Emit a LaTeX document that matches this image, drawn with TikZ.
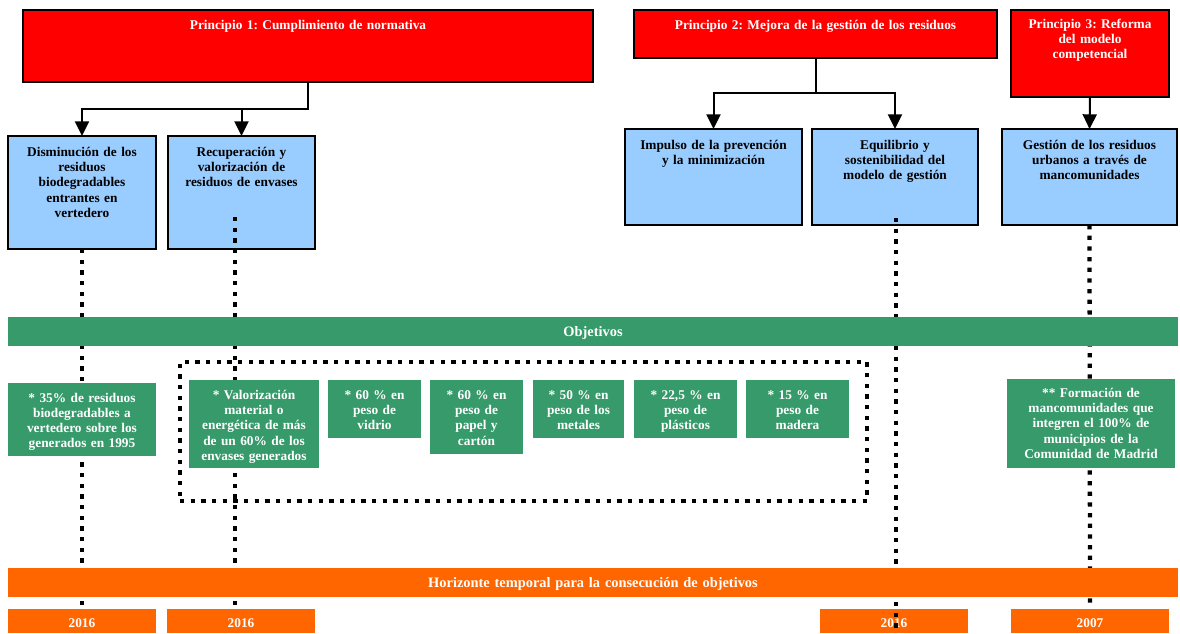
\documentclass[tikz,border=0pt]{standalone}
\usepackage{fontspec}
\setmainfont{Liberation Serif}
\usetikzlibrary{arrows.meta,fit}
\definecolor{pred}{RGB}{255,0,0}
\definecolor{pblue}{RGB}{153,204,255}
\definecolor{pgreen}{RGB}{54,154,106}
\definecolor{porange}{RGB}{255,102,0}
\frenchspacing
\begin{document}
\begin{tikzpicture}[x=0.75pt,y=-0.75pt,
 box/.style={inner sep=0pt, outer sep=0pt},
 redbox/.style={box, draw=black, line width=1.5pt, fill=pred},
 bluebox/.style={box, draw=black, line width=1.5pt, fill=pblue},
 greenbox/.style={box, fill=pgreen},
 orangebox/.style={box, fill=porange},
 txt/.style={font=\fontsize{10}{11.4}\selectfont\bfseries\frenchspacing, text width=300pt, align=center, inner sep=0pt, anchor=base},
 wtxt/.style={txt, text=white},
 bartxt/.style={wtxt, font=\fontsize{10.8}{12}\selectfont\bfseries\frenchspacing},
 arr/.style={line width=1.5pt, -{Triangle[width=10.5pt,length=11pt]}},
 dotline/.style={line width=3.2pt, dash pattern=on 3.2pt off 4.8pt},
 dotframe/.style={box, draw=black, line width=3.2pt, dash pattern=on 3.2pt off 4.8pt},
]
\useasboundingbox (0,0) rectangle (1180,633);

% principles
\node[redbox, fit={(23,10) (593,82)}] (p1) {};
\node[wtxt] (p1t) at (308,29.5) {Principio 1: Cumplimiento de normativa};
\node[redbox, fit={(634,10) (997,58)}] (p2) {};
\node[wtxt] (p2t) at (815.5,29.5) {Principio 2: Mejora de la gestión de los residuos};
\node[redbox, fit={(1011,10) (1169,97)}] (p3) {};
\node[wtxt] (p3t) at (1090,28.5) {Principio 3: Reforma\\del modelo\\competencial};

% lines of action
\node[bluebox, fit={(8,136) (156,249)}] (b1) {};
\node[txt] (b1t) at (82,156.5) {Disminución de los\\residuos\\biodegradables\\entrantes en\\vertedero};
\node[bluebox, fit={(168,136) (315,249)}] (b2) {};
\node[txt] (b2t) at (241.5,156.5) {Recuperación y\\valorización de\\residuos de envases};
\node[bluebox, fit={(625,129) (802,225)}] (b3) {};
\node[txt] (b3t) at (713.5,149.5) {Impulso de la prevención\\y la minimización};
\node[bluebox, fit={(812,129) (978,225)}] (b4) {};
\node[txt] (b4t) at (895,149.5) {Equilibrio y\\sostenibilidad del\\modelo de gestión};
\node[bluebox, fit={(1002,129) (1177,225)}] (b5) {};
\node[txt] (b5t) at (1089.5,149.5) {Gestión de los residuos\\urbanos a través de\\mancomunidades};

% arrows
\draw[arr] (p1.south) -- ++(0,27) -| (b1.north);
\draw[arr] (p1.south) -- ++(0,27) -| (b2.north);
\draw[arr] (p2.south) -- ++(0,35) -| (b3.north);
\draw[arr] (p2.south) -- ++(0,35) -| (b4.north);
\draw[arr] (p3.south) -- (b5.north);

% year box under the dotted line
\node[orangebox, fit={(820,609) (968,633)}] (y3) {};
\node[wtxt] (y3t) at (894,627.5) {2016};

% dotted time lines
\coordinate (d1e) at (82,606);
\coordinate (d2s) at (235,217);
\coordinate (d2e) at (235,606);
\coordinate (d3s) at (896,218);
\coordinate (d3e) at (896,631);
\coordinate (d4e) at (1090,609);
\draw[dotline] (b1.south) -- (d1e);
\draw[dotline] (d2s) -- (d2e);
\draw[dotline] (d3s) -- (d3e);
\draw[dotline] (b5.south) -- (d4e);

% objectives
\node[dotframe, fit={(180,362) (867,501)}] (grp) {};
\node[greenbox, fit={(8,317) (1178,346)}] (obj) {};
\node[bartxt] (objt) at (593,336) {Objetivos};

\node[greenbox, fit={(8,383) (156,456)}] (g1) {};
\node[wtxt] (g1t) at (82,402) {* 35\% de residuos\\biodegradables a\\vertedero sobre los\\generados en 1995};
\node[greenbox, fit={(189,380) (319,468)}] (g2) {};
\node[wtxt] (g2t) at (254,399.5) {* Valorización\\material o\\energética de más\\de un 60\% de los\\envases generados};
\node[greenbox, fit={(328,380) (421,438)}] (g3) {};
\node[wtxt] (g3t) at (374.5,399.5) {* 60 \% en\\peso de\\vidrio};
\node[greenbox, fit={(430,380) (523,454)}] (g4) {};
\node[wtxt] (g4t) at (476.5,399.5) {* 60 \% en\\peso de\\papel y\\cartón};
\node[greenbox, fit={(533,380) (624,438)}] (g5) {};
\node[wtxt] (g5t) at (578.5,399.5) {* 50 \% en\\peso de los\\metales};
\node[greenbox, fit={(634,380) (737,438)}] (g6) {};
\node[wtxt] (g6t) at (685.5,399.5) {* 22,5 \% en\\peso de\\plásticos};
\node[greenbox, fit={(746,380) (849,438)}] (g7) {};
\node[wtxt] (g7t) at (797.5,399.5) {* 15 \% en\\peso de\\madera};
\node[greenbox, fit={(1007,379) (1175,468)}] (g8) {};
\node[wtxt] (g8t) at (1091,397.5) {** Formación de\\mancomunidades que\\integren el 100\% de\\municipios de la\\Comunidad de Madrid};

% time horizon
\node[orangebox, fit={(8,568) (1178,597)}] (hor) {};
\node[bartxt] (hort) at (593,587) {Horizonte temporal para la consecución de objetivos};
\node[orangebox, fit={(8,609) (156,633)}] (y1) {};
\node[wtxt] (y1t) at (82,627.5) {2016};
\node[orangebox, fit={(167,609) (315,633)}] (y2) {};
\node[wtxt] (y2t) at (241,627.5) {2016};
\node[orangebox, fit={(1011,609) (1169,633)}] (y4) {};
\node[wtxt] (y4t) at (1090,627.5) {2007};
\end{tikzpicture}
\end{document}
